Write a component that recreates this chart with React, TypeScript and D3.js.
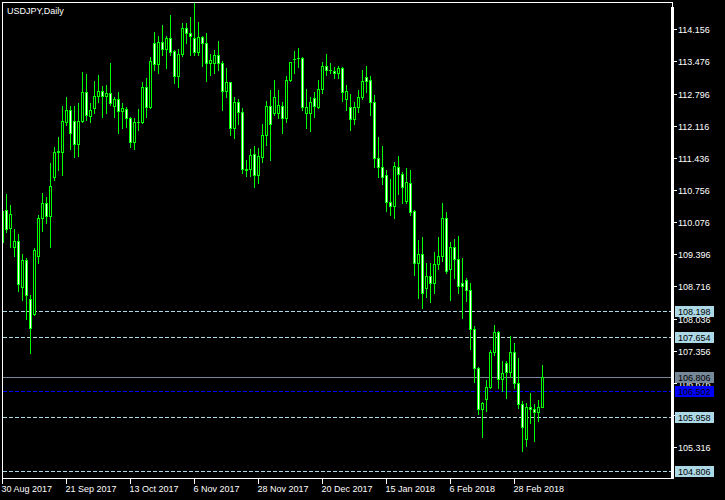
import React from "react";
import * as d3 from "d3";

const W = 725;
const H = 500;

const title = "USDJPY,Daily";

const open = [109.657,110.333,109.953,109.551,109.678,108.705,109.276,108.451,108.133,109.360,110.164,110.481,110.206,111.032,111.560,111.560,112.195,112.449,112.216,111.730,112.216,112.830,112.322,112.491,112.745,112.851,112.745,112.809,112.534,112.682,112.428,112.470,112.280,111.772,112.195,112.195,112.935,112.512,113.866,113.422,113.888,113.739,113.972,113.697,113.168,113.634,114.184,114.078,113.972,113.676,113.993,113.866,113.443,113.443,113.612,113.443,112.851,113.041,112.068,112.618,112.407,111.201,111.201,111.518,111.074,111.455,111.920,112.534,112.385,112.385,112.534,112.280,113.084,113.528,113.549,113.549,112.385,112.385,112.703,112.512,112.893,113.380,113.295,113.274,113.232,113.337,112.682,112.512,112.259,112.512,112.724,113.147,113.084,112.618,111.433,111.243,111.074,110.503,110.418,111.243,111.095,110.524,110.905,110.312,109.212,109.403,108.684,108.937,108.789,109.191,109.360,110.164,109.085,109.551,109.297,108.789,108.853,108.641,107.816,106.991,106.124,106.335,106.589,107.329,107.753,106.758,107.097,106.906,107.329,106.674,106.229,105.489,106.166,106.124,106.060,106.166];

const high = [110.333,110.672,110.439,109.931,109.826,109.403,109.318,108.535,109.530,110.228,110.693,110.608,111.328,111.666,111.878,112.534,112.724,112.534,112.534,112.597,113.253,113.211,112.597,113.062,113.189,112.957,112.978,113.443,112.724,112.830,112.597,112.512,112.301,112.280,112.470,113.041,113.126,113.570,114.099,114.014,114.247,114.014,114.459,113.718,113.739,114.289,114.289,114.416,114.713,114.311,114.014,114.078,113.634,113.718,113.909,113.486,113.337,113.050,112.724,112.682,112.491,111.391,111.624,111.687,111.645,112.153,112.639,112.872,113.084,112.872,112.618,113.168,113.470,113.697,113.761,113.560,112.893,112.724,112.830,113.084,113.464,113.634,113.443,113.359,113.380,113.350,112.978,112.787,112.618,112.872,113.295,113.380,113.168,112.766,111.878,111.687,111.180,110.989,111.349,111.476,111.137,111.222,111.180,110.333,109.699,109.762,109.212,109.212,109.445,109.762,110.481,110.291,109.657,109.720,109.783,109.318,108.895,108.789,107.875,107.012,106.272,106.737,107.372,107.901,107.774,107.139,107.139,107.668,107.520,107.202,106.293,106.251,106.462,106.229,106.314,107.054];

const low = [109.635,109.868,109.551,109.360,108.620,108.430,108.027,107.308,108.112,109.212,109.889,110.058,109.551,110.968,111.180,111.074,112.132,111.624,111.455,111.476,112.195,112.237,112.195,112.385,112.618,112.301,112.385,112.555,112.301,111.962,112.068,112.089,111.666,111.624,112.026,112.174,112.301,112.491,113.295,113.232,113.612,113.337,113.612,113.020,112.935,113.591,113.866,113.612,113.612,113.612,113.380,113.062,113.189,113.232,113.295,112.449,112.724,111.920,111.857,112.153,111.116,111.053,111.053,110.820,110.905,111.349,111.708,111.391,112.343,112.280,111.962,112.195,113.062,113.232,113.359,112.449,112.068,112.005,112.301,112.491,112.809,113.189,113.232,113.126,113.126,112.639,112.449,112.026,112.153,112.407,112.682,112.830,112.343,111.243,111.032,110.884,110.312,110.228,110.164,110.672,110.481,110.481,110.228,108.958,108.472,108.260,108.493,108.387,108.578,109.085,109.254,109.001,108.430,108.895,108.578,108.049,108.408,107.393,106.695,106.018,105.531,106.081,106.568,107.266,106.568,106.505,106.356,106.801,106.568,106.145,105.235,105.341,105.827,105.447,105.870,106.166];

const close = [110.312,109.931,110.249,109.678,108.768,109.276,108.535,107.837,109.487,110.164,110.481,110.206,110.841,111.560,111.575,112.216,112.449,111.962,111.730,112.216,112.830,112.343,112.449,112.745,112.851,112.745,112.809,112.597,112.682,112.428,112.491,112.280,111.772,112.195,112.205,112.935,112.512,113.486,113.422,113.888,113.739,113.972,113.676,113.168,113.634,114.184,114.078,114.014,113.676,113.993,113.866,113.443,113.507,113.612,113.443,112.851,113.041,112.068,112.618,112.407,111.201,111.190,111.497,111.074,111.476,111.920,112.534,112.153,112.724,112.555,112.280,113.084,113.464,113.518,113.540,112.512,112.512,112.618,112.534,112.893,113.380,113.295,113.285,113.232,113.337,112.830,112.851,112.259,112.512,112.724,113.062,113.062,112.618,111.433,111.243,111.032,110.503,110.418,111.264,111.095,110.820,110.926,110.291,109.212,109.403,108.578,108.937,108.789,109.191,109.360,110.164,109.043,109.551,109.297,108.726,108.726,108.641,107.816,106.991,106.124,106.251,106.589,107.329,107.753,106.758,106.885,106.906,107.329,106.674,106.229,105.743,106.166,106.124,106.060,106.166,106.806];

const priceTicks = [114.156, 113.476, 112.796, 112.116, 111.436, 110.756, 110.076, 109.396, 108.716, 108.036, 107.356, 106.676, 105.996, 105.316];

const dateLabels = ["30 Aug 2017", "21 Sep 2017", "13 Oct 2017", "6 Nov 2017", "28 Nov 2017", "20 Dec 2017", "15 Jan 2018", "6 Feb 2018", "28 Feb 2018"];
const dateBarIndex = [0, 16, 32, 48, 64, 80, 96, 112, 128];

const levelLines = [108.198, 107.654, 105.958, 104.806];
const bidPrice = 106.806;
const askLinePrice = 106.502;

const FONT = "'Liberation Sans', Arial, sans-serif";

export default function App() {
  const x = d3.scaleLinear().domain([0, open.length - 1]).range([2, 542]);
  const y = d3.scaleLinear().domain([104.806, 114.156]).range([471.3, 29.3]);
  const ry = (p: number) => Math.round(y(p));

  const plotL = 3, plotR = 671, plotT = 3, plotB = 478;

  const candles = open.map((o, i) => {
    const c = close[i];
    const cx = Math.round(x(i));
    const hi = ry(high[i]);
    const lo = ry(low[i]);
    const top = ry(Math.max(o, c));
    const bot = ry(Math.min(o, c));
    const bull = c > o;
    return (
      <g key={i}>
        <rect x={cx} y={hi} width={1} height={Math.max(1, lo - hi + 1)} fill="#00ff00" />
        <rect x={cx - 1} y={top} width={3} height={bot - top + 1} fill="#00ff00" />
        {bot - top - 1 > 0 && (
          <rect x={cx} y={top + 1} width={1} height={bot - top - 1} fill={bull ? "#000000" : "#ffffff"} />
        )}
      </g>
    );
  });

  const boxLabel = (p: number, fill: string, key: string) => {
    const yy = ry(p);
    return (
      <g key={key}>
        <rect x={675} y={yy - 5} width={39} height={11} fill={fill} />
        <text x={678} y={yy + 3.5} fontSize={9} fontFamily={FONT} fill="#000000">{p.toFixed(3)}</text>
      </g>
    );
  };

  return (
    <svg width={W} height={H} style={{ position: "absolute", left: 0, top: 0, display: "block" }} shapeRendering="crispEdges">
      <rect x={0} y={0} width={W} height={H} fill="#000000" />
      <defs>
        <clipPath id="plotclip">
          <rect x={plotL} y={plotT} width={plotR - plotL} height={plotB - plotT} />
        </clipPath>
      </defs>

      {/* horizontal level lines */}
      <g clipPath="url(#plotclip)">
        {levelLines.map((p, i) => (
          <line key={"lv" + i} x1={plotL} x2={plotR} y1={ry(p) + 0.5} y2={ry(p) + 0.5} stroke="#add8e6" strokeWidth={1} strokeDasharray="4,2" />
        ))}
        <line x1={plotL} x2={plotR} y1={ry(askLinePrice) + 0.5} y2={ry(askLinePrice) + 0.5} stroke="#0000ff" strokeWidth={1} strokeDasharray="4,2" />
        <line x1={plotL} x2={plotR} y1={ry(bidPrice) + 0.5} y2={ry(bidPrice) + 0.5} stroke="#778899" strokeWidth={1} />
        {candles}
      </g>

      {/* frame */}
      <line x1={2} x2={673} y1={2.5} y2={2.5} stroke="#ffffff" strokeWidth={1} />
      <line x1={2.5} x2={2.5} y1={2} y2={479} stroke="#ffffff" strokeWidth={1} />
      <line x1={2} x2={674} y1={478.5} y2={478.5} stroke="#ffffff" strokeWidth={1} />
      <line x1={672.5} x2={672.5} y1={2} y2={8} stroke="#ffffff" strokeWidth={1} />
      <rect x={671} y={7} width={3} height={472} fill="#ffffff" />

      {/* price axis */}
      {priceTicks.map((p, i) => {
        const yy = ry(p);
        return (
          <g key={"pt" + i}>
            <line x1={674} x2={677} y1={yy + 0.5} y2={yy + 0.5} stroke="#ffffff" strokeWidth={1} />
            <text x={678} y={yy + 3.5} fontSize={9} fontFamily={FONT} fill="#ffffff">{p.toFixed(3)}</text>
          </g>
        );
      })}
      {levelLines.map((p, i) => boxLabel(p, "#add8e6", "bl" + i))}
      {boxLabel(bidPrice, "#778899", "bid")}
      {boxLabel(askLinePrice, "#0000ff", "ask")}

      {/* time axis */}
      {dateBarIndex.map((idx, i) => {
        const cx = Math.round(x(idx));
        return (
          <g key={"dt" + i}>
            <line x1={cx + 0.5} x2={cx + 0.5} y1={479} y2={484} stroke="#ffffff" strokeWidth={1} />
            <text x={cx - 0.5} y={492} fontSize={9} fontFamily={FONT} fill="#ffffff">{dateLabels[i]}</text>
          </g>
        );
      })}

      <text x={7} y={13.5} fontSize={9} fontFamily={FONT} fill="#ffffff">{title}</text>
    </svg>
  );
}
